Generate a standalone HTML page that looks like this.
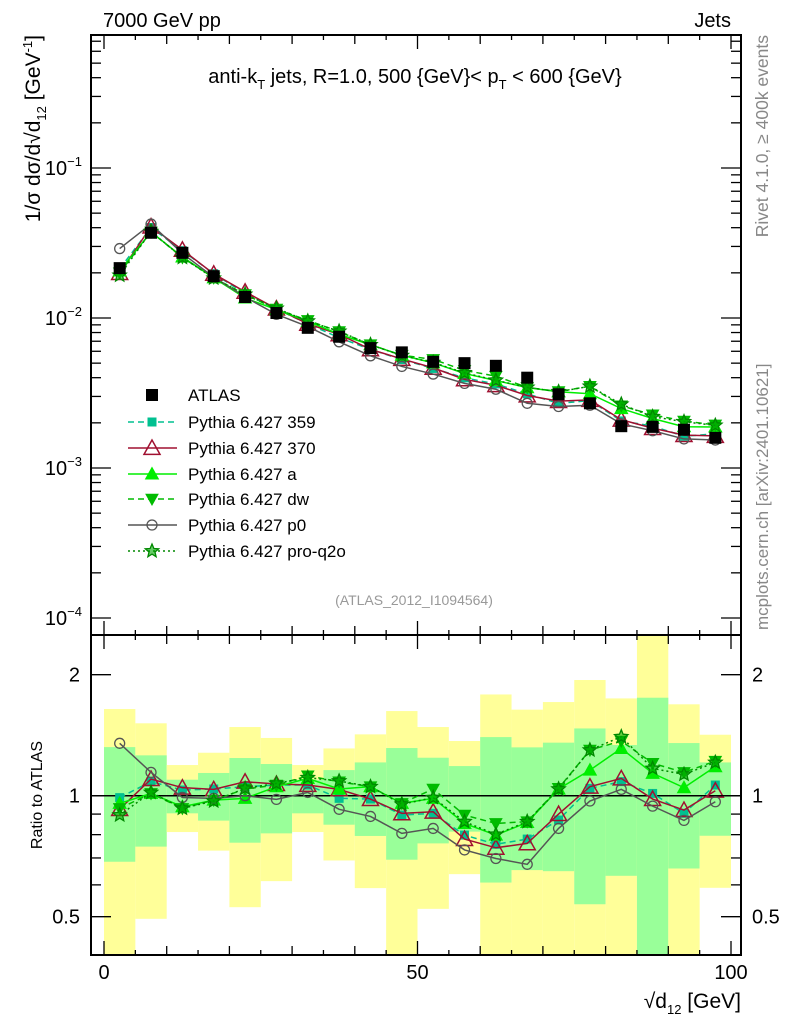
<!DOCTYPE html>
<html><head><meta charset="utf-8"><style>
body{margin:0;background:#fff}
svg{display:block;font-family:"Liberation Sans",sans-serif}
</style></head><body>
<svg id="chart" width="786" height="1024" viewBox="0 0 786 1024" xmlns="http://www.w3.org/2000/svg">
<defs>
<clipPath id="clipMain"><rect x="91" y="35" width="650" height="600"/></clipPath>
<clipPath id="clipRatio"><rect x="91" y="635" width="650" height="320"/></clipPath>
</defs>
<g id="bands" clip-path="url(#clipRatio)"></g>
<g id="ratioLines" clip-path="url(#clipRatio)"></g>
<g id="mainLines" clip-path="url(#clipMain)"></g>
<g id="axes"></g>
<text x="103" y="27" font-size="20">7000 GeV pp</text>
<text x="731" y="27" font-size="20" text-anchor="end">Jets</text>
<text x="415" y="83" font-size="20" text-anchor="middle">anti-k<tspan font-size="13" dy="6">T</tspan><tspan dy="-6"> jets, R=1.0, 500 {GeV}&lt; p</tspan><tspan font-size="13" dy="6">T</tspan><tspan dy="-6"> &lt; 600 {GeV}</tspan></text>
<text transform="translate(40,35) rotate(-90)" font-size="21" text-anchor="end">1/σ dσ/d√d<tspan font-size="13" dy="6">12</tspan><tspan dy="-6"> [GeV</tspan><tspan font-size="13" dy="-8">-1</tspan><tspan dy="8">]</tspan></text>
<text transform="translate(42,795) rotate(-90)" font-size="16" text-anchor="middle">Ratio to ATLAS</text>
<text transform="translate(768,35) rotate(-90)" font-size="17.5" fill="#888" text-anchor="end">Rivet 4.1.0, ≥ 400k events</text>
<text transform="translate(768,630) rotate(-90)" font-size="17" fill="#888" text-anchor="start">mcplots.cern.ch [arXiv:2401.10621]</text>
<text x="414" y="605" font-size="14" fill="#999" text-anchor="middle">(ATLAS_2012_I1094564)</text>
<text x="741" y="1008" font-size="21" text-anchor="end">√d<tspan font-size="13" dy="6">12</tspan><tspan dy="-6"> [GeV]</tspan></text>
<g id="legend"></g>
</svg>
<script>
const binLo=[0,5,10,15,20,25,30,35,40,45,50,55,60,65,70,75,80,85,90,95];
const binCenters=[2.5,7.5,12.5,17.5,22.5,27.5,32.5,37.5,42.5,47.5,52.5,57.5,62.5,67.5,72.5,77.5,82.5,87.5,92.5,97.5];
const atlas=[0.0215,0.037,0.0272,0.019,0.0138,0.0108,0.0086,0.0075,0.0063,0.0059,0.0051,0.0050,0.0048,0.0040,0.0031,0.0027,0.0019,0.00188,0.0018,0.00159];
const yellowHi=[1.643,1.514,1.192,1.279,1.482,1.392,1.192,1.311,1.421,1.624,1.482,1.368,1.786,1.637,1.710,1.940,1.746,3.0,1.688,1.418];
const yellowLo=[0.3,0.494,0.812,0.730,0.528,0.613,0.812,0.690,0.589,0.3,0.523,0.638,0.3,0.3,0.3,0.3,0.3,0.3,0.3,0.590];
const greenHi=[1.321,1.260,1.096,1.139,1.241,1.199,1.096,1.158,1.210,1.314,1.243,1.185,1.399,1.319,1.355,1.470,1.337,1.753,1.352,1.210];
const greenLo=[0.685,0.747,0.904,0.867,0.764,0.806,0.904,0.847,0.794,0.693,0.761,0.814,0.608,0.653,0.649,0.537,0.632,0.3,0.659,0.795];
const r359=[0.989,1.084,1.033,1.039,1.053,1.063,1.063,0.985,0.981,0.895,0.904,0.798,0.757,0.780,0.870,1.043,1.084,1.013,0.904,1.063];
const r370=[0.926,1.100,1.047,1.037,1.083,1.069,1.063,1.037,0.981,0.904,0.912,0.780,0.742,0.761,0.900,1.053,1.104,0.981,0.921,1.029];
const rA=[0.957,1.013,0.939,0.975,0.985,1.053,1.104,1.039,1.053,0.957,0.985,0.853,0.798,0.858,1.039,1.158,1.311,1.137,1.047,1.181];
const rDW=[0.930,1.013,0.930,0.975,1.039,1.063,1.121,1.083,1.053,0.957,1.039,0.895,0.853,0.862,1.043,1.299,1.368,1.204,1.143,1.219];
const rP0=[1.350,1.143,0.990,0.985,1.0,0.979,1.019,0.925,0.888,0.806,0.829,0.733,0.698,0.675,0.829,0.970,1.037,0.942,0.868,0.966];
const rPro=[0.895,1.019,0.930,0.970,1.043,1.073,1.109,1.088,1.053,0.952,0.989,0.862,0.801,0.862,1.039,1.299,1.402,1.169,1.130,1.210];
const xTicks=[0,50,100];
const seriesNames=["Pythia 6.427 359","Pythia 6.427 370","Pythia 6.427 a","Pythia 6.427 dw","Pythia 6.427 p0","Pythia 6.427 pro-q2o"];

const NS="http://www.w3.org/2000/svg";
const X=v=>104+6.27*v;
const Y=v=>168-150*(Math.log10(v)+1);
const R=r=>795.7-121*Math.log2(r);
function mk(tag,attrs,parent){const e=document.createElementNS(NS,tag);for(const k in attrs)e.setAttribute(k,attrs[k]);parent.appendChild(e);return e;}

const series=[
 {name:seriesNames[0],r:r359,color:"#00c090",dash:"6,4",marker:"square",fill:true,size:4},
 {name:seriesNames[1],r:r370,color:"#a01030",dash:"",marker:"tri",fill:false,size:8},
 {name:seriesNames[2],r:rA,color:"#00ee00",dash:"",marker:"tri",fill:true,size:6},
 {name:seriesNames[3],r:rDW,color:"#00bb00",dash:"6,4",marker:"dtri",fill:true,size:6},
 {name:seriesNames[4],r:rP0,color:"#555555",dash:"",marker:"circle",fill:false,size:6},
 {name:seriesNames[5],r:rPro,color:"#008800",dash:"2,3",marker:"star",fill:false,size:7}
];

function marker(s,x,y,parent){
 let e;const z=s.size;const f=s.fill?s.color:"none";
 if(s.marker==="square")e=mk("rect",{x:x-z,y:y-z,width:2*z,height:2*z,fill:f,stroke:s.color},parent);
 else if(s.marker==="tri")e=mk("polygon",{points:`${x},${y-z} ${x-z},${y+z*0.8} ${x+z},${y+z*0.8}`,fill:s.fill?s.color:"none",stroke:s.color,"stroke-width":1.5},parent);
 else if(s.marker==="dtri")e=mk("polygon",{points:`${x},${y+z} ${x-z},${y-z*0.8} ${x+z},${y-z*0.8}`,fill:f,stroke:s.color},parent);
 else if(s.marker==="circle")e=mk("circle",{cx:x,cy:y,r:z-1,fill:"none",stroke:s.color,"stroke-width":1.3},parent);
 else {let p=[];for(let i=0;i<10;i++){const a=-Math.PI/2+i*Math.PI/5;const rr=i%2?z*0.45:z;p.push((x+rr*Math.cos(a)).toFixed(1)+","+(y+rr*Math.sin(a)).toFixed(1));}
  e=mk("polygon",{points:p.join(" "),fill:"#00aa00","fill-opacity":0.6,stroke:s.color,"stroke-width":1.3},parent);}
 return e;
}

const bands=document.getElementById("bands");
binLo.forEach((lo,i)=>{
 const y1=mk("rect",{x:X(lo),y:R(yellowHi[i]),width:X(lo+5)-X(lo),height:R(yellowLo[i])-R(yellowHi[i]),fill:"#ffff99"},bands);
 
 
 const g1=mk("rect",{x:X(lo),y:R(greenHi[i]),width:X(lo+5)-X(lo),height:R(greenLo[i])-R(greenHi[i]),fill:"#99ff99"},bands);
 
 
});
const one=mk("line",{x1:91,x2:741,y1:R(1),y2:R(1),stroke:"#000","stroke-width":1.5},bands);



const main=document.getElementById("mainLines");
const ratio=document.getElementById("ratioLines");
series.forEach(s=>{
 const mv=s.r.map((r,i)=>r*atlas[i]);
 const pm=mk("polyline",{points:binCenters.map((c,i)=>X(c)+","+Y(mv[i])).join(" "),fill:"none",stroke:s.color,"stroke-width":1.5,"stroke-dasharray":s.dash},main);
 
 
 const pr=mk("polyline",{points:binCenters.map((c,i)=>X(c)+","+R(s.r[i])).join(" "),fill:"none",stroke:s.color,"stroke-width":1.5,"stroke-dasharray":s.dash},ratio);
 
 
 binCenters.forEach((c,i)=>{
  const m1=marker(s,X(c),Y(mv[i]),main);
  
  
  const m2=marker(s,X(c),R(s.r[i]),ratio);
  
  
 });
});
binCenters.forEach((c,i)=>{
 const q=mk("rect",{x:X(c)-6,y:Y(atlas[i])-6,width:12,height:12,fill:"#000"},main);
 
 
});

const ax=document.getElementById("axes");
const fr1=mk("rect",{x:91,y:35,width:650,height:600,fill:"none",stroke:"#000","stroke-width":2},ax);


const fr2=mk("rect",{x:91,y:635,width:650,height:320,fill:"none",stroke:"#000","stroke-width":2},ax);


for(let d=-4;d<=0;d++){for(let m=1;m<=9;m++){const v=m*Math.pow(10,d);const y=Y(v);if(y<35||y>635)continue;const L=m===1?20:10;
 mk("line",{x1:91,x2:91+L,y1:y,y2:y,stroke:"#000","stroke-width":1.3},ax);
 mk("line",{x1:741,x2:741-L,y1:y,y2:y,stroke:"#000","stroke-width":1.3},ax);}}
[-1,-2,-3,-4].forEach(d=>{const t=mk("text",{x:82,y:Y(Math.pow(10,d))+7,"font-size":20,"text-anchor":"end"},ax);
 
 
 t.innerHTML=`10<tspan font-size="13" dy="-9">${d===-1?'−1':'−'+(-d)}</tspan>`;});
[0.4,0.5,0.6,0.7,0.8,0.9,1,2].forEach(r=>{const y=R(r);if(y<635||y>955)return;const L=(r===0.5||r===1||r===2)?20:10;
 mk("line",{x1:91,x2:91+L,y1:y,y2:y,stroke:"#000","stroke-width":1.3},ax);
 mk("line",{x1:741,x2:741-L,y1:y,y2:y,stroke:"#000","stroke-width":1.3},ax);});
[[2,"2"],[1,"1"],[0.5,"0.5"]].forEach(([r,l])=>{
 const a=mk("text",{x:80,y:R(r)+7,"font-size":20,"text-anchor":"end"},ax);a.textContent=l;
 
 
 const b=mk("text",{x:752,y:R(r)+7,"font-size":20},ax);b.textContent=l;
 
 });
for(let v=0;v<=100;v+=5){const L=v%50===0?14:(v%10===0?9:5);
 mk("line",{x1:X(v),x2:X(v),y1:955,y2:955-L,stroke:"#000","stroke-width":1.3},ax);
 mk("line",{x1:X(v),x2:X(v),y1:635,y2:635-L,stroke:"#000","stroke-width":1.3},ax);
 mk("line",{x1:X(v),x2:X(v),y1:635,y2:635+L,stroke:"#000","stroke-width":1.3},ax);
 mk("line",{x1:X(v),x2:X(v),y1:35,y2:35+L,stroke:"#000","stroke-width":1.3},ax);}
xTicks.forEach(v=>{const t=mk("text",{x:X(v),y:979,"font-size":20,"text-anchor":"middle"},ax);t.textContent=v;
 
 });

const lg=document.getElementById("legend");
const aq=mk("rect",{x:146,y:389,width:12,height:12,fill:"#000"},lg);


const at=mk("text",{x:188,y:401,"font-size":17},lg);at.textContent="ATLAS";


const ly=[422,448,474,499,525,551];
series.forEach((s,i)=>{const y=ly[i];
 mk("line",{x1:128,x2:177,y1:y,y2:y,stroke:s.color,"stroke-width":1.5,"stroke-dasharray":s.dash},lg);
 const m=marker(s,152,y,lg);
 
 
 const t=mk("text",{x:188,y:y+6,"font-size":17},lg);t.textContent=s.name;
 
 });
</script>
</body></html>
